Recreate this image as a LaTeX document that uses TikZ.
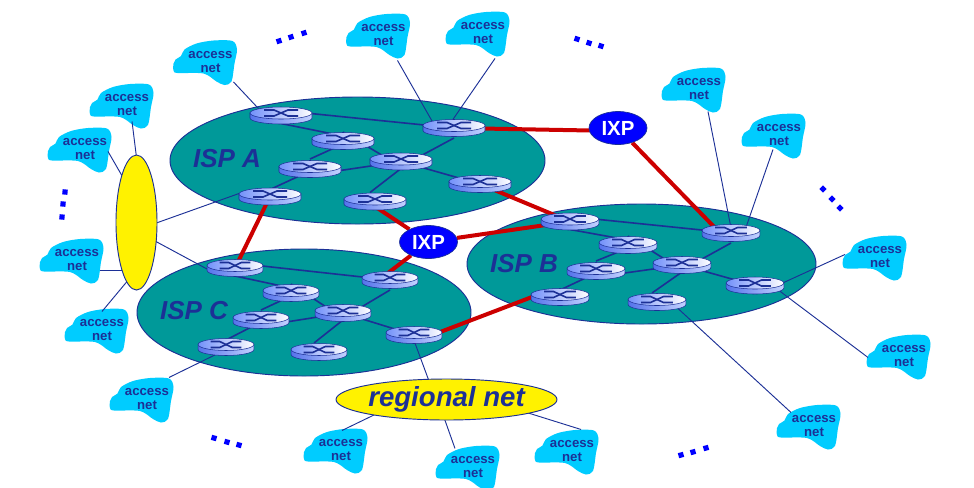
\documentclass[tikz,border=0pt]{standalone}
\usepackage{fontspec}
\setmainfont{Liberation Sans}
\definecolor{linkblue}{RGB}{28, 48, 150}
\definecolor{ispteal}{RGB}{0, 153, 153}
\definecolor{accesscyan}{RGB}{0, 204, 255}
\definecolor{linkred}{RGB}{204, 0, 0}
\definecolor{ixpblue}{RGB}{0, 0, 255}
\definecolor{routertop}{RGB}{115, 145, 250}
\definecolor{routerside}{RGB}{85, 115, 235}
\definecolor{routerlight}{RGB}{195, 210, 255}
\usetikzlibrary{shapes.geometric, backgrounds}
\pgfdeclarelayer{cloudlayer}
\pgfsetlayers{cloudlayer,background,main}
\tikzset{
  isp/.style={ellipse, draw=linkblue, line width=0.7pt, fill=ispteal, inner sep=0pt},
  ispname/.style={font=\bfseries\itshape\fontsize{19.5}{20}\selectfont, text=linkblue},
  hubnet/.style={ellipse, draw=linkblue, line width=0.7pt, fill=yellow, inner sep=0pt, font=\bfseries\itshape\fontsize{20.7}{22}\selectfont, text=linkblue},
  ixp/.style={ellipse, draw=linkblue, line width=0.5pt, fill=ixpblue, inner sep=0pt, minimum width=43.5pt, minimum height=24.75pt, text=white, font=\bfseries\fontsize{15.3}{16}\selectfont},
  accesslabel/.style={align=center, inner sep=0pt, yshift=-1.1pt, text=linkblue, font=\bfseries\fontsize{9.9}{10.5}\selectfont},
  accesslink/.style={draw=linkblue, line width=0.7pt},
  corelink/.style={draw=linkblue, line width=1.2pt},
  peerlink/.style={draw=linkred, line width=3pt},
}
% router: name, x, y, width factor
\newcommand{\router}[4]{
  \begin{scope}[shift={(#2,#3)}, xscale=#4]
    \draw[linkblue, line width=0.4pt, left color=routerside, right color=routerlight] (-31,-2.5) -- (-31,2.5) arc[start angle=180, end angle=0, x radius=31, y radius=6] -- (31,-2.5) -- cycle;
    \draw[linkblue, line width=0.4pt, left color=routertop, right color=white] (0,-2.5) ellipse [x radius=31, y radius=6];
    \draw[linkblue, line width=1.2pt] (-17,-5.5) -- (-7,-5.5) -- (7,0.5) -- (17,0.5);
    \draw[linkblue, line width=1.2pt] (-17,0.5) -- (-7,0.5) -- (7,-5.5) -- (17,-5.5);
  \end{scope}
  \coordinate (#1) at (#2,#3);
}
% access network: name, x, y
\newcommand{\accessnet}[3]{
  \begin{pgfonlayer}{cloudlayer}
    \fill[accesscyan, shift={(#2,#3)}] plot[smooth cycle, tension=0.5] coordinates {(-37,3) (-37,10) (-33,12.5) (-7,13) (6,21) (14,24.5) (21,21) (24,3) (26.5,-11) (22,-19.5) (3,-20) (-14,-17) (-26,-11) (-29.5,-4.5) (-35,-1)};
    \node[accesslabel] (#1) at (#2,#3) {access\\net};
  \end{pgfonlayer}
}
\begin{document}
\begin{tikzpicture}[x=0.75pt, y=-0.75pt]
  \useasboundingbox (0,0) rectangle (974,487);

  % ISP clouds
  \begin{pgfonlayer}{cloudlayer}
    \node[isp, minimum width=250.5pt, minimum height=95.25pt] (ispc) at (304,312.5) {};
    \node[isp, minimum width=281.25pt, minimum height=95.25pt] (ispa) at (357.5,160.5) {};
    \node[isp, minimum width=261.75pt, minimum height=90pt] (ispb) at (641.5,264) {};
    \node[ispname] (ispalabel) at (227,159) {ISP A};
    \node[ispname] (ispblabel) at (524,264) {ISP B};
    \node[ispname] (ispclabel) at (194,311) {ISP C};
  \end{pgfonlayer}

  % routers
  \router{ra1}{281}{115.5}{1}
  \router{ra2}{343}{141}{1}
  \router{ra3}{454}{128}{1}
  \router{ra4}{401}{161.5}{1}
  \router{ra5}{310}{169}{1}
  \router{ra6}{270}{196.5}{1}
  \router{ra7}{375}{201.5}{1}
  \router{ra8}{480}{184}{1}
  \router{rb1}{570}{221.5}{0.93}
  \router{rb2}{628}{245}{0.93}
  \router{rb3}{731}{233}{0.93}
  \router{rb4}{682}{265}{0.93}
  \router{rb5}{596}{271}{0.93}
  \router{rb6}{560}{297}{0.93}
  \router{rb7}{657}{302}{0.93}
  \router{rb8}{755}{285.5}{0.93}
  \router{rc1}{235}{268}{0.9}
  \router{rc2}{291}{293}{0.9}
  \router{rc3}{390}{280}{0.9}
  \router{rc4}{343}{313}{0.9}
  \router{rc5}{261}{320}{0.9}
  \router{rc6}{226}{347}{0.9}
  \router{rc7}{319}{352}{0.9}
  \router{rc8}{414}{335}{0.9}

  % exchange points and other nets
  \node[ixp] (ixpt) at (618,128) {IXP};
  \node[ixp] (ixpm) at (428.5,242) {IXP};
  \node[hubnet, minimum width=30.75pt, minimum height=101.25pt] (hub) at (136.5,222.5) {};
  \node[hubnet, minimum width=165.75pt, minimum height=30.75pt] (regional) at (446.5,399.5) {\makebox[1.5pt]{\raisebox{-0.7pt}{regional net}}};

  % access nets
  \accessnet{an1}{210.5}{60.5}
  \accessnet{an2}{383.5}{34}
  \accessnet{an3}{483}{32}
  \accessnet{an4}{127}{104}
  \accessnet{an5}{85}{148}
  \accessnet{an6}{77}{259}
  \accessnet{an7}{102}{329}
  \accessnet{an8}{147}{398}
  \accessnet{an9}{341}{449}
  \accessnet{an10}{473}{466}
  \accessnet{an11}{572}{450}
  \accessnet{an12}{699}{88}
  \accessnet{an13}{779}{134}
  \accessnet{an14}{880}{256}
  \accessnet{an15}{904}{355}
  \accessnet{an16}{814}{425}

  \begin{scope}[on background layer]
    % links inside the ISPs
    \foreach \isp in {a,b,c} {
      \draw[corelink] ([shift={(0,-5)}]r\isp1) -- (r\isp3);
      \draw[corelink] ([shift={(0,8)}]r\isp1) -- ([shift={(0,-5)}]r\isp2);
      \draw[corelink] ([shift={(0,-9)}]r\isp2) -- ([shift={(0,5)}]r\isp4);
      \draw[corelink] ([shift={(0,3)}]r\isp2) -- ([shift={(0,-10)}]r\isp5);
      \draw[corelink] ([shift={(0,10)}]r\isp3) -- ([shift={(0,5)}]r\isp4);
      \draw[corelink] (r\isp4) -- ([shift={(0,6)}]r\isp5);
      \draw[corelink] ([shift={(0,7)}]r\isp4) -- ([shift={(-5,-9)}]r\isp7);
      \draw[corelink] (r\isp4) -- (r\isp8);
      \draw[corelink] ([shift={(0,2)}]r\isp5) -- ([shift={(0,-7)}]r\isp6);
    }
    % access links
    \draw[accesslink] ([shift={(23,20)}]an1.center) -- ([shift={(-16,0)}]ra1);
    \draw[accesslink] ([shift={(14,25)}]an2.center) -- ([shift={(-18,0)}]ra3);
    \draw[accesslink] ([shift={(12,25)}]an3.center) -- ([shift={(-7,0)}]ra3);
    \draw[accesslink] ([shift={(5,16)}]an4.center) -- ([shift={(1,-57)}]hub.center);
    \draw[accesslink] ([shift={(23,2)}]an5.center) -- ([shift={(-6,-32)}]hub.center);
    \draw[accesslink] ([shift={(23,10)}]an6.center) -- ([shift={(-6,48)}]hub.center);
    \draw[accesslink] ([shift={(0,-19)}]an7.center) -- ([shift={(-2,50)}]hub.center);
    \draw[accesslink] ([shift={(10,4)}]hub.center) -- ([shift={(-31,-3)}]ra6);
    \draw[accesslink] ([shift={(12,15)}]hub.center) -- ([shift={(-28,1)}]rc1);
    \draw[accesslink] ([shift={(22,-22)}]an8.center) -- ([shift={(-1,3)}]rc6);
    \draw[accesslink] ([shift={(-2,0)}]rc8) -- ([shift={(-14,-9)}]regional.center);
    \draw[accesslink] ([shift={(1,-20)}]an9.center) -- ([shift={(-53,6)}]regional.center);
    \draw[accesslink] ([shift={(-18,-19)}]an10.center) -- ([shift={(-5,11)}]regional.center);
    \draw[accesslink] ([shift={(9,-22)}]an11.center) -- ([shift={(61,7)}]regional.center);
    \draw[accesslink] ([shift={(9,22)}]an12.center) -- ([shift={(1,0)}]rb3);
    \draw[accesslink] ([shift={(-6,14)}]an13.center) -- ([shift={(13,0)}]rb3);
    \draw[accesslink] ([shift={(-35,-3)}]an14.center) -- ([shift={(20,1)}]rb8);
    \draw[accesslink] ([shift={(-36,1)}]an15.center) -- ([shift={(20,2)}]rb8);
    \draw[accesslink] ([shift={(-23,-14)}]an16.center) -- ([shift={(15,1)}]rb7);
    % peering links
    \draw[peerlink] (ra3) -- ([shift={(0,3)}]ixpt.center);
    \draw[peerlink] (ixpt) -- ([shift={(-11,0)}]rb3);
    \draw[peerlink] (ra6) -- (rc1);
    \draw[peerlink] ([shift={(0,5)}]ra7) -- (ixpm);
    \draw[peerlink] (ixpm) -- ([shift={(-2,-7)}]rc3);
    \draw[peerlink] (ixpm) -- (rb1);
    \draw[peerlink] (ra8) -- (rb1);
    \draw[peerlink] ([shift={(0,7)}]rc8) -- ([shift={(-28,0)}]rb6);
  \end{scope}

  % dots
  \foreach \x/\y/\r in {279/41/18, 291/37/18, 304/33/18, 577/39/-18, 589/43/-18, 601/46/-18, 65/192/-5, 63/204/-5, 62/217/-5, 823/189/45, 832/199/45, 840/208/45, 214/438/-15, 227/442/-15, 239/445/-15, 681/455/15, 693/452/15, 706/448/15}
    \fill[ixpblue, shift={(\x,\y)}, rotate=\r] (-2.6,-2.6) rectangle (2.6,2.6);
\end{tikzpicture}
\end{document}
